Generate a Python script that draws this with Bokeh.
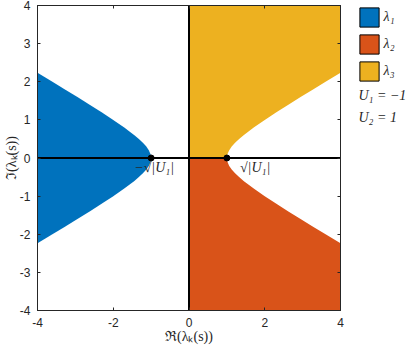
from bokeh.plotting import figure
from bokeh.layouts import row
from bokeh.models import Range1d, FixedTicker, LinearAxis, Legend, LegendItem, Label
from bokeh.embed import file_html
from bokeh.resources import INLINE

# ---- data ----
x_ticks = [-4, -2, 0, 2, 4]
y_ticks = [-4, -3, -2, -1, 0, 1, 2, 3, 4]
axis_lim = [-4, 4]
zero = [0, 0]
# boundary curve (upper branch, right side); mirrored for the others
curve_y = [0.0, 0.05, 0.1, 0.2, 0.3, 0.4, 0.5, 0.6, 0.8, 1.0, 1.2, 1.4, 1.6, 1.8, 2.0, 2.236]
curve_x = [1.0, 1.004, 1.015, 1.058, 1.127, 1.217, 1.323, 1.442, 1.709, 2.0, 2.307, 2.623, 2.946, 3.275, 3.606, 4.0]
branch_x = [-1, 1]
branch_y = [0, 0]
series_names = ["λ₁", "λ₂", "λ₃"]
series_colors = ["#0072BD", "#D95319", "#EDB120"]
param_texts = ["U₁ = −1", "U₂ = 1"]
branch_labels = ["−√|U₁|", "√|U₁|"]
x_label = "ℜ(λₖ(s))"
y_label = "ℑ(λₖ(s))"

TXT = "#262626"
SERIF = "Liberation Serif"
B_LEFT, B_RIGHT, B_TOP, B_BOTTOM = 35, 5, 5, 36
FRAME_H = 346 - B_TOP - B_BOTTOM

p = figure(width=345, height=346, x_range=Range1d(*axis_lim), y_range=Range1d(*axis_lim),
           output_backend="svg", toolbar_location=None,
           min_border_left=B_LEFT, min_border_right=B_RIGHT, min_border_top=B_TOP,
           min_border_bottom=B_BOTTOM)
p.grid.visible = False
p.outline_line_color = TXT
p.background_fill_color = "white"

# regions
n = len(curve_x)
blue_x = [-curve_x[i] for i in range(n - 1, -1, -1)] + [-curve_x[i] for i in range(1, n)]
blue_y = [curve_y[i] for i in range(n - 1, -1, -1)] + [-curve_y[i] for i in range(1, n)]
yel_x = [0, 0] + curve_x + [axis_lim[1]]
yel_y = [axis_lim[1], 0] + curve_y + [axis_lim[1]]
ora_x = [0, 0] + curve_x + [axis_lim[1]]
ora_y = [axis_lim[0], 0] + [-v for v in curve_y] + [axis_lim[0]]

p.patch(blue_x, blue_y, fill_color=series_colors[0], line_color=None)
p.patch(ora_x, ora_y, fill_color=series_colors[1], line_color=None)
p.patch(yel_x, yel_y, fill_color=series_colors[2], line_color=None)

# zero lines
p.line(axis_lim, zero, line_color="black", line_width=2)
p.line(zero, axis_lim, line_color="black", line_width=2)
p.scatter(branch_x, branch_y, size=6, color="black")

# axes
for ax, ticks in ((p.xaxis[0], x_ticks), (p.yaxis[0], y_ticks)):
    ax.ticker = FixedTicker(ticks=ticks)
    ax.major_label_overrides = {t: str(t) for t in ticks}
    ax.major_tick_in = 3
    ax.major_tick_out = 0
    ax.minor_tick_line_color = None
    ax.axis_line_color = TXT
    ax.major_tick_line_color = TXT
    ax.major_label_text_color = TXT
    ax.major_label_text_font = "Liberation Sans"
    ax.major_label_text_font_size = "12px"
    ax.major_label_standoff = 7
    ax.axis_label_text_font = SERIF
    ax.axis_label_text_font_style = "normal"
    ax.axis_label_text_font_size = "14px"
    ax.axis_label_text_color = TXT
p.xaxis[0].axis_label = x_label
p.yaxis[0].axis_label = y_label
p.xaxis[0].axis_label_standoff = -1
p.yaxis[0].axis_label_standoff = -2

for ticks, loc in ((x_ticks, "above"), (y_ticks, "right")):
    ax = LinearAxis(ticker=FixedTicker(ticks=ticks), major_tick_in=3, major_tick_out=0,
                    minor_tick_line_color=None, major_label_overrides={t: "" for t in ticks},
                    major_label_standoff=0, axis_line_color=TXT, major_tick_line_color=TXT)
    p.add_layout(ax, loc)

# legend panel (separate figure to the right of the axes; its frame aligns with p's frame)
lg = figure(width=64, height=346, x_range=Range1d(0, 1), y_range=Range1d(0, 1),
            output_backend="svg", toolbar_location=None,
            x_axis_location=None, y_axis_location=None,
            min_border_left=0, min_border_right=0, min_border_top=B_TOP,
            min_border_bottom=B_BOTTOM)
lg.grid.visible = False
lg.outline_line_color = None

items = []
for name, col in zip(series_names, series_colors):
    # swatch-only renderer, kept outside the visible range of the legend panel
    r = lg.quad(left=[2], right=[3], top=[3], bottom=[2], fill_color=col, line_color="black", line_width=1)
    items.append(LegendItem(label=name, renderers=[r]))
LEG_H = 3 * 24 + 2 * 3
legend = Legend(items=items, location=(11.6, FRAME_H - LEG_H), padding=0, margin=0, spacing=3,
                glyph_width=24, glyph_height=24, label_standoff=3,
                border_line_color=None, background_fill_alpha=0,
                label_text_font=SERIF, label_text_font_style="italic",
                label_text_font_size="14px", label_text_color=TXT)
lg.add_layout(legend, "center")

# parameter texts (screen offsets from the frame bottom, which sits at y = 310)
for txt, top_px in zip(param_texts, [95, 117]):
    lg.add_layout(Label(x=13, y=310 - top_px, x_units="screen", y_units="screen", text=txt,
                        text_font=SERIF, text_font_style="italic", text_font_size="14px",
                        text_color=TXT, text_baseline="middle", text_align="left"))

# branch point labels
p.add_layout(Label(x=branch_x[0], y=branch_y[0], text=branch_labels[0], x_offset=3, y_offset=-2,
                   text_font=SERIF, text_font_style="italic", text_font_size="14px",
                   text_color=TXT, text_baseline="top", text_align="center"))
p.add_layout(Label(x=branch_x[1], y=branch_y[1], text=branch_labels[1], x_offset=13, y_offset=-2,
                   text_font=SERIF, text_font_style="italic", text_font_size="14px",
                   text_color=TXT, text_baseline="top", text_align="left"))

layout = row(p, lg, spacing=0)
layout.styles = {"position": "absolute", "left": "0px", "top": "0px"}

open("out.html", "w").write(file_html(layout, INLINE))
